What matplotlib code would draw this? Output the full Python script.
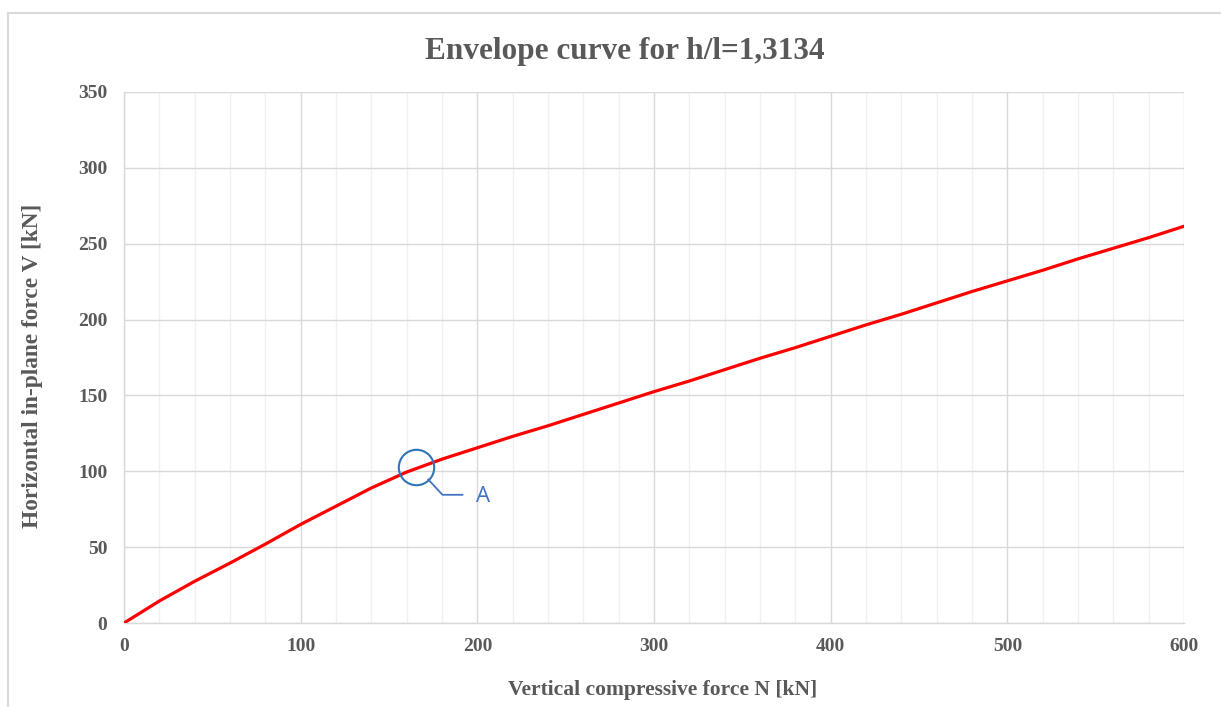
import matplotlib
matplotlib.use("Agg")
import matplotlib.pyplot as plt
from matplotlib.lines import Line2D
import matplotlib.transforms as mtransforms
import numpy as np

# envelope curve
N_kN = [0, 20, 40, 60, 80, 100, 120, 140, 160, 180, 200, 220, 240, 260, 280, 300,
        320, 340, 360, 380, 400, 420, 440, 460, 480, 500, 520, 540, 560, 580, 600]
V_kN = [0, 14.5, 27.5, 39.5, 52, 65, 77, 89, 99.5, 108, 115.5, 123, 130, 137.5, 145, 152.5,
        159.5, 167, 174.5, 181.5, 189, 196.5, 203.5, 211, 218.5, 225.5, 232.5, 240, 247, 254, 261.5]

point_A = (165, 103)
title = "Envelope curve for h/l=1,3134"
xlabel = "Vertical compressive force N [kN]"
ylabel = "Horizontal in-plane force V [kN]"

W, H = 1221, 707
txt = "#595959"
serif = ["Liberation Serif", "DejaVu Serif"]


def main():
  fig = plt.figure(figsize=(W / 100, H / 100), dpi=100)
  ax = fig.add_axes([124 / W, (H - 623) / H, (1184 - 124) / W, (623 - 92) / H])

  # chart area frame (only top and left edges show)
  fig.add_artist(Line2D([8 / W, 1.0], [1 - 13 / H, 1 - 13 / H], transform=fig.transFigure,
                        color="#d9d9d9", lw=1.5))
  fig.add_artist(Line2D([8 / W, 8 / W], [0, 1 - 13 / H], transform=fig.transFigure,
                        color="#d9d9d9", lw=1.5))

  ax.plot(N_kN, V_kN, color="#ff0000", lw=2.3, solid_capstyle="round", zorder=3)

  ax.set_xlim(0, 600)
  ax.set_ylim(0, 350)
  ax.set_xticks(np.arange(0, 601, 100))
  ax.set_xticks(np.arange(0, 601, 20), minor=True)
  ax.set_yticks(np.arange(0, 351, 50))
  ax.grid(which="major", color="#d9d9d9", lw=1.0)
  ax.grid(which="minor", axis="x", color="#f0f0f0", lw=1.0)
  ax.set_axisbelow(True)
  for s in ["top", "right"]:
    ax.spines[s].set_visible(False)
  for s in ["left", "bottom"]:
    ax.spines[s].set_color("#d9d9d9")
    ax.spines[s].set_linewidth(1.0)
  ax.tick_params(which="both", length=0)
  ax.tick_params(axis="x", pad=11)
  ax.tick_params(axis="y", pad=12)
  for lab in ax.get_xticklabels() + ax.get_yticklabels():
    lab.set_fontfamily(serif)
    lab.set_fontweight("bold")
    lab.set_fontsize(14)
    lab.set_color(txt)

  # highlighted point A with leader line (offsets in points from the point)
  ax.plot(*point_A, marker="o", ms=25.5, mfc="none", mec="#2e75b6", mew=1.5, zorder=4)
  lx = [9.2, 19.4, 33.8]
  ly = [-9.2, -20.2, -20.2]
  pts = np.array([mtransforms.offset_copy(ax.transData, fig=fig, x=dx, y=dy, units="points")
                  .transform(point_A) for dx, dy in zip(lx, ly)])
  fig.add_artist(Line2D(pts[:, 0], pts[:, 1], transform=None, color="#4472c4", lw=1.3))
  ax.annotate("A", xy=point_A, xycoords="data", xytext=(49, -21.5), textcoords="offset points",
              fontsize=16, color="#4472c4", family=["Open Sans", "DejaVu Sans"],
              ha="center", va="center")

  fig.text(625 / W, 1 - 52 / H, title, ha="center", va="center",
           fontsize=22.5, fontweight="bold", color=txt, family=serif)
  fig.text(663 / W, 1 - 690 / H, xlabel, ha="center", va="center",
           fontsize=15.5, fontweight="bold", color=txt, family=serif)
  fig.text(33 / W, 1 - 366 / H, ylabel, ha="center", va="center", rotation=90,
           fontsize=16.8, fontweight="bold", color=txt, family=serif)

  fig.savefig("out.png", dpi=100)


if __name__ == '__main__':
  main()
